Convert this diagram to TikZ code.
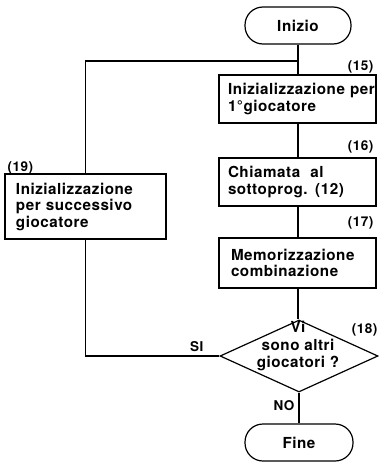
\documentclass[tikz,border=0pt]{standalone}
\usepackage{fontspec}
\setmainfont[LetterSpace=3.5]{TeX Gyre Heros}
\usetikzlibrary{shapes.geometric}
\begin{document}
\begin{tikzpicture}[x=1pt,y=-1pt,line width=1.2pt,
  txt/.style={font=\fontsize{15.2}{16.5}\selectfont\bfseries},
  lbl/.style={font=\fontsize{13.5}{15}\selectfont\bfseries,inner sep=0pt},
  term/.style={txt,draw,rounded corners=18pt,minimum width=106pt,minimum height=37pt,inner sep=0pt},
  procbox/.style={txt,draw,rectangle,inner ysep=0pt,align=left},
  decision/.style={draw,diamond,inner sep=0pt,minimum width=158pt,minimum height=72pt}]
\useasboundingbox (0,0) rectangle (379,463);

\node[term] (inizio) at (298,25.5) {Inizio};
\node[procbox,text width=139pt,inner xsep=9pt,minimum height=48pt] (b15) at (297.5,99) {\mbox{Inizializzazione per}\\1°giocatore};
\node[procbox,text width=139pt,inner xsep=9pt,minimum height=48pt] (b16) at (297.5,182) {Chiamata\ \ al\\sottoprog. (12)};
\node[procbox,text width=133pt,inner xsep=12pt,minimum height=50pt] (b17) at (297.5,263) {\mbox{Memorizzazione}\\combinazione};
\node[procbox,text width=139pt,inner xsep=11pt,minimum height=65pt] (b19) at (85.5,206.5) {\mbox{Inizializzazione}\\per successivo\\giocatore};
\node[decision] (dia) at (299,356) {};
\node[txt,align=center,inner sep=0pt,font=\fontsize{15.2}{17.5}\selectfont\bfseries] (diatxt) at (298,346) {Vi\\sono altri\\giocatori ?};
\node[term,minimum width=108pt] (fine) at (299,442.5) {Fine};

\node[lbl,anchor=base east] (l15) at (374,70) {(15)};
\node[lbl,anchor=base east] (l16) at (374,150) {(16)};
\node[lbl,anchor=base east] (l17) at (374,226) {(17)};
\node[lbl,anchor=base east] (l18) at (378,333) {(18)};
\node[lbl,anchor=base west] (l19) at (7,171) {(19)};
\node[lbl,anchor=base east] (si) at (204,351) {SI};
\node[lbl,anchor=base east] (no) at (295,410) {NO};

\coordinate (j) at (298,61);
\draw (inizio.south) -- (b15.north -| inizio.south);
\draw (j) -| (b19.north);
\draw (b15.south -| inizio.south) -- (b16.north -| inizio.south);
\draw (b16.south -| inizio.south) -- (b17.north -| inizio.south);
\draw (b17.south -| inizio.south) -- (dia.north -| inizio.south);
\draw (b19.south) |- (dia.west);
\draw (dia.south) -- (fine.north -| dia.south);
\end{tikzpicture}
\end{document}
